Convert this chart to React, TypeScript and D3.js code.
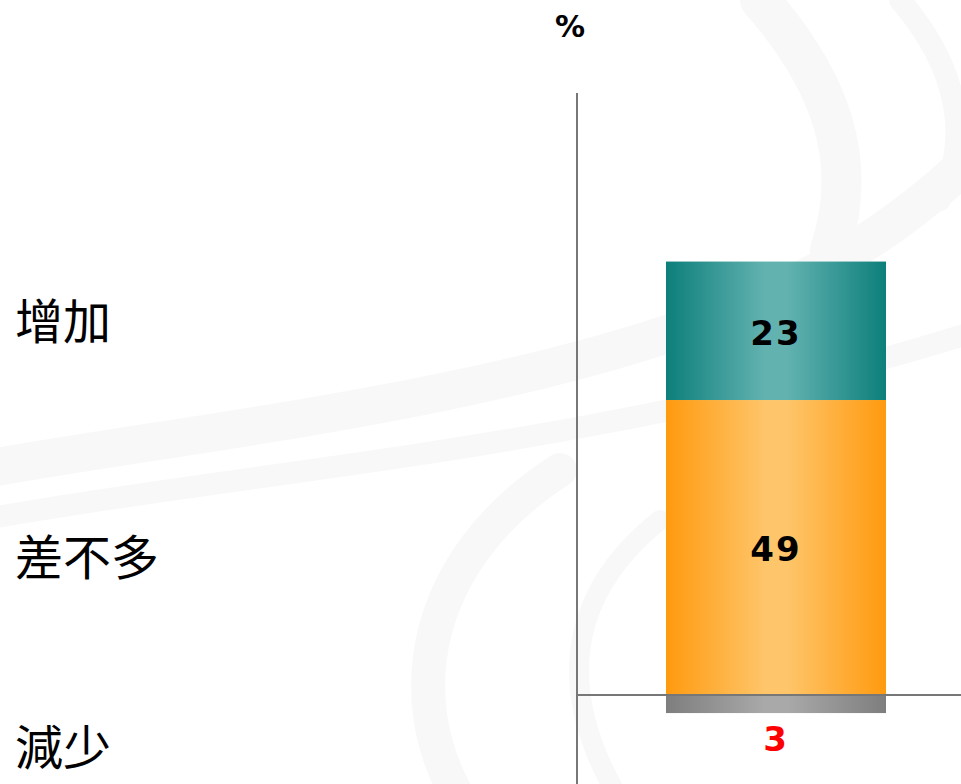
import React from 'react';
import { scaleLinear, scaleBand, stack } from 'd3';

// data
const categories = ['增加', '差不多', '減少'];
const values = [23, 49, -3];
const valueLabels = ['23', '49', '3'];
const barKey = '全體';

const width = 961;
const height = 784;
const axisX = 577;
const axisTop = 93;

const colors = [
  { id: 'gTeal', edge: '#0d7f7b', mid: '#62b2b0' },
  { id: 'gOrange', edge: '#ff9a0f', mid: '#fec56a' },
  { id: 'gGray', edge: '#7e7e7e', mid: '#a9a9a9' },
];
const labelY = [322, 558, 748];

const App = () => {
  const yScale = scaleLinear().domain([0, 100]).range([695, axisTop]);
  const xScale = scaleBand<string>()
    .domain([barKey])
    .range([axisX, 975])
    .paddingInner(0.288)
    .paddingOuter(0.288);

  // positive parts stack upward from 0 (orange first, then teal), negative goes down
  const row: Record<string, number> = {};
  categories.forEach((c, i) => (row[c] = values[i]));
  const series = stack<Record<string, number>>()
    .keys(['差不多', '增加', '減少'])
    .offset((s, order) => {
      // diverging-like offset
      for (let j = 0; j < s[0].length; j++) {
        let pos = 0;
        let neg = 0;
        for (const i of order) {
          const d = s[i][j];
          const v = d[1] - d[0];
          if (v >= 0) {
            d[0] = pos;
            d[1] = pos += v;
          } else {
            d[1] = neg;
            d[0] = neg += v;
          }
        }
      }
    })([row]);

  const x0 = xScale(barKey) ?? 0;
  const bw = xScale.bandwidth();
  const cx = x0 + bw / 2;

  return (
    <svg
      width={width}
      height={height}
      style={{ position: 'absolute', left: 0, top: 0, display: 'block', background: '#fff' }}
    >
      <defs>
        {colors.map(c => (
          <linearGradient key={c.id} id={c.id} x1="0" x2="1" y1="0" y2="0">
            <stop offset="0%" stopColor={c.edge} />
            <stop offset="45%" stopColor={c.mid} />
            <stop offset="55%" stopColor={c.mid} />
            <stop offset="100%" stopColor={c.edge} />
          </linearGradient>
        ))}
      </defs>

      {/* faint watermark swirls */}
      <g fill="none" stroke="#f7f8f7" strokeLinecap="round">
        <path d="M -20 470 C 200 430 520 400 760 300 C 860 255 930 200 980 150" strokeWidth={38} />
        <path d="M -20 520 C 250 470 600 450 980 330" strokeWidth={22} />
        <path d="M 460 800 C 400 700 420 560 560 470" strokeWidth={34} />
        <path d="M 620 800 C 560 700 560 600 660 520" strokeWidth={20} />
        <path d="M 760 0 C 830 80 860 160 830 250" strokeWidth={40} />
        <path d="M 900 0 C 960 70 970 140 940 200" strokeWidth={22} />
      </g>

      {/* bars */}
      {series.map(s => {
        const i = categories.indexOf(s.key);
        const d = s[0];
        const top = yScale(d[1]);
        const bottom = yScale(d[0]);
        return (
          <rect
            key={s.key}
            x={x0}
            y={top}
            width={bw}
            height={bottom - top}
            fill={`url(#${colors[i].id})`}
          />
        );
      })}

      {/* axes */}
      <line x1={axisX} x2={axisX} y1={axisTop} y2={height} stroke="#777" strokeWidth={2} />
      <line x1={axisX} x2={width} y1={yScale(0)} y2={yScale(0)} stroke="#777" strokeWidth={2} />

      {/* value labels */}
      {series.map(s => {
        const i = categories.indexOf(s.key);
        const d = s[0];
        const neg = values[i] < 0;
        const y = neg ? yScale(d[0]) + 26 : (yScale(d[0]) + yScale(d[1])) / 2 + 2;
        return (
          <text
            key={s.key}
            x={cx}
            y={y}
            dy=".35em"
            textAnchor="middle"
            fontFamily="DejaVu Sans, sans-serif"
            fontWeight="bold"
            fontSize={34}
            letterSpacing={2}
            fill={neg ? '#ff0000' : '#000'}
          >
            {valueLabels[i]}
          </text>
        );
      })}

      {/* category labels */}
      {categories.map((c, i) => (
        <text
          key={c}
          x={15}
          y={labelY[i]}
          dy=".35em"
          fontFamily="'Noto Sans CJK TC', sans-serif"
          fontSize={48}
          fill="#000"
        >
          {c}
        </text>
      ))}

      <text
        x={570}
        y={26}
        dy=".35em"
        textAnchor="middle"
        fontFamily="DejaVu Sans, sans-serif"
        fontWeight="bold"
        fontSize={30}
        fill="#000"
      >
        %
      </text>
    </svg>
  );
};

export default App;
